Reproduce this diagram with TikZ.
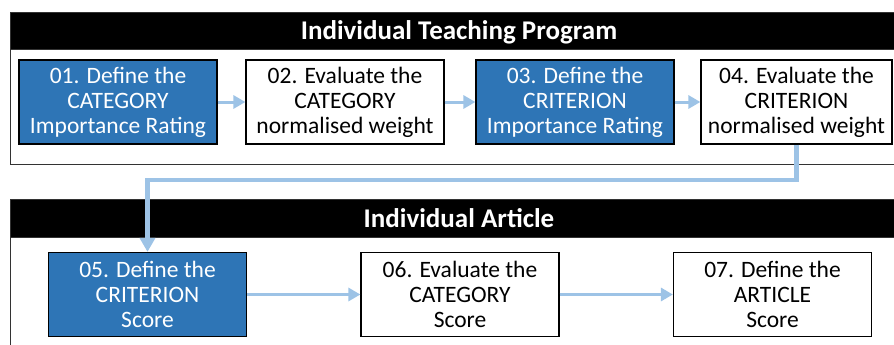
\documentclass[tikz,border=0pt]{standalone}
\usepackage{fontspec}
\setmainfont{Carlito}
\usepackage{xcolor}
\usetikzlibrary{arrows.meta,calc,positioning}
\definecolor{stepblue}{HTML}{2E75B6}
\definecolor{arrowblue}{HTML}{9DC3E6}

\begin{document}
\begin{tikzpicture}[
		x=1pt, y=-1pt,
		panel/.style={draw=black!80, line width=1pt},
		banner/.style={fill=black, draw=black!80, line width=1pt},
		title/.style={text=white, font=\fontsize{27}{30}\selectfont\bfseries},
		stepbox/.style={draw=black, line width=1.2pt, fill=white, minimum width=198pt, minimum height=84pt, inner sep=0pt, align=center, font=\fontsize{23.5}{25}\selectfont},
		bluebox/.style={stepbox, fill=stepblue, text=white},
		flow/.style={-{Triangle[width=13pt,length=12pt]}, line width=3pt, draw=arrowblue},
		]
	
		\useasboundingbox (0,0) rectangle (894,345);
		\clip (0,0) rectangle (894,345);
	
		\draw[panel] (10,13) rectangle (912,164);
		\draw[banner] (10,13) rectangle (912,50);
		\node[title] (T1) at (459,32) {Individual Teaching Program};
	
		\draw[panel] (10,199) rectangle (912,360);
		\draw[banner] (10,199) rectangle (912,237);
		\node[title] (T2) at (459,218.5) {Individual Article};
	
		\node[bluebox] (S1) at (118,102) {01. Define the\\CATEGORY\\Importance Rating};
		\node[stepbox] (S2) at (345,102) {02. Evaluate the\\CATEGORY\\normalised weight};
		\node[bluebox] (S3) at (575,102) {03. Define the\\CRITERION\\Importance Rating};
		\node[stepbox, minimum width=191pt] (S4) at (796.5,102) {04. Evaluate the\\CRITERION\\normalised weight};
	
		\node[bluebox] (S5) at (147.5,294.5) {05. Define the\\CRITERION\\Score};
		\node[stepbox] (S6) at (460,294.5) {06. Evaluate the\\CATEGORY\\Score};
		\node[stepbox] (S7) at (772.5,294.5) {07. Define the\\ARTICLE\\Score};
	
		\coordinate (bend) at (796.5,180);
	
		\draw[flow] (S1) -- (S2);
		\draw[flow] (S2) -- (S3);
		\draw[flow] (S3) -- (S4);
		\draw[flow, line width=4.5pt, -{Triangle[width=15pt,length=14pt]}] (S4.south) -- (bend) -| (S5.north);
		\draw[flow] (S5) -- (S6);
		\draw[flow] (S6) -- (S7);
	
	\end{tikzpicture}
\end{document}
